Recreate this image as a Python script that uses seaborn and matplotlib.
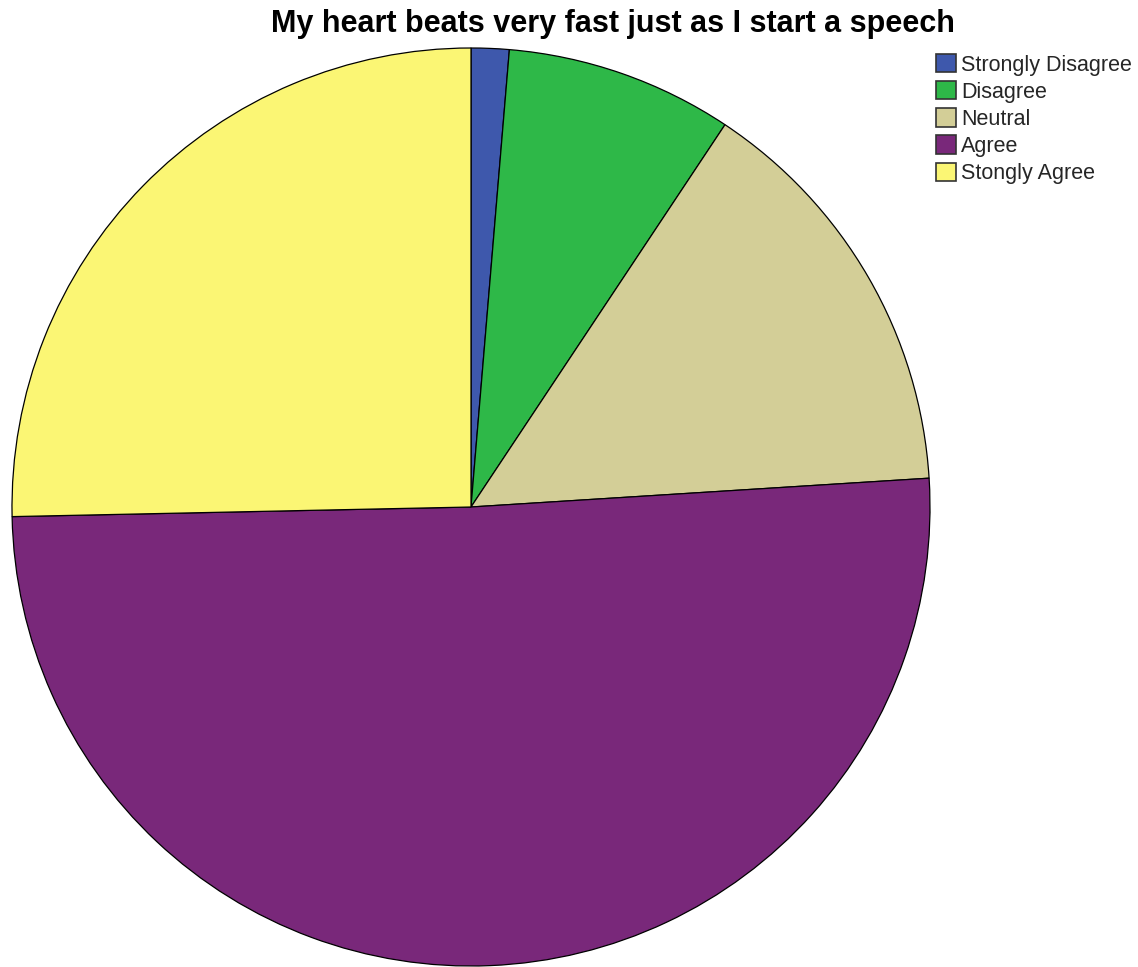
import matplotlib
matplotlib.use("Agg")
import matplotlib.pyplot as plt
import seaborn as sns

# Survey responses (number of respondents, n = 75)
categories = ["Strongly Disagree", "Disagree", "Neutral", "Agree", "Stongly Agree"]
counts = [1, 6, 11, 38, 19]
colors = ["#3E58AC", "#2EB848", "#D3CE97", "#79287A", "#FBF674"]
title = "My heart beats very fast just as I start a speech"

sns.set_theme(style="white")
plt.rcParams["font.family"] = ["Liberation Sans", "DejaVu Sans"]

W, H = 1138, 967
fig = plt.figure(figsize=(W / 100, H / 100), dpi=100)
fig.patch.set_facecolor("white")

# Pie centred at (471, 507) px with radius 459 px
cx, cy, r = 471, 507, 459
ax = fig.add_axes([(cx - r) / W, (H - cy - r) / H, 2 * r / W, 2 * r / H])
wedges, _ = ax.pie(
    counts,
    colors=colors,
    startangle=90,
    counterclock=False,
    radius=1.0,
    wedgeprops=dict(edgecolor="black", linewidth=0.9),
)
ax.set_xlim(-1, 1)
ax.set_ylim(-1, 1)
ax.set_aspect("equal")
ax.axis("off")

fig.text(613 / W, 1 - 9 / H, title, ha="center", va="top",
         fontsize=22, fontweight="bold", color="black")

leg = fig.legend(
    wedges, categories,
    loc="upper left",
    bbox_to_anchor=(936 / W, 1 - 54 / H),
    frameon=False,
    fontsize=15.5,
    handlelength=0.93,
    handleheight=0.93,
    handletextpad=0.23,
    labelspacing=0.26,
    borderaxespad=0,
    borderpad=0,
)
for h in leg.legend_handles:
    h.set_edgecolor("#333333")
    h.set_linewidth(1.2)

fig.savefig("out.png", dpi=100, facecolor="white")
